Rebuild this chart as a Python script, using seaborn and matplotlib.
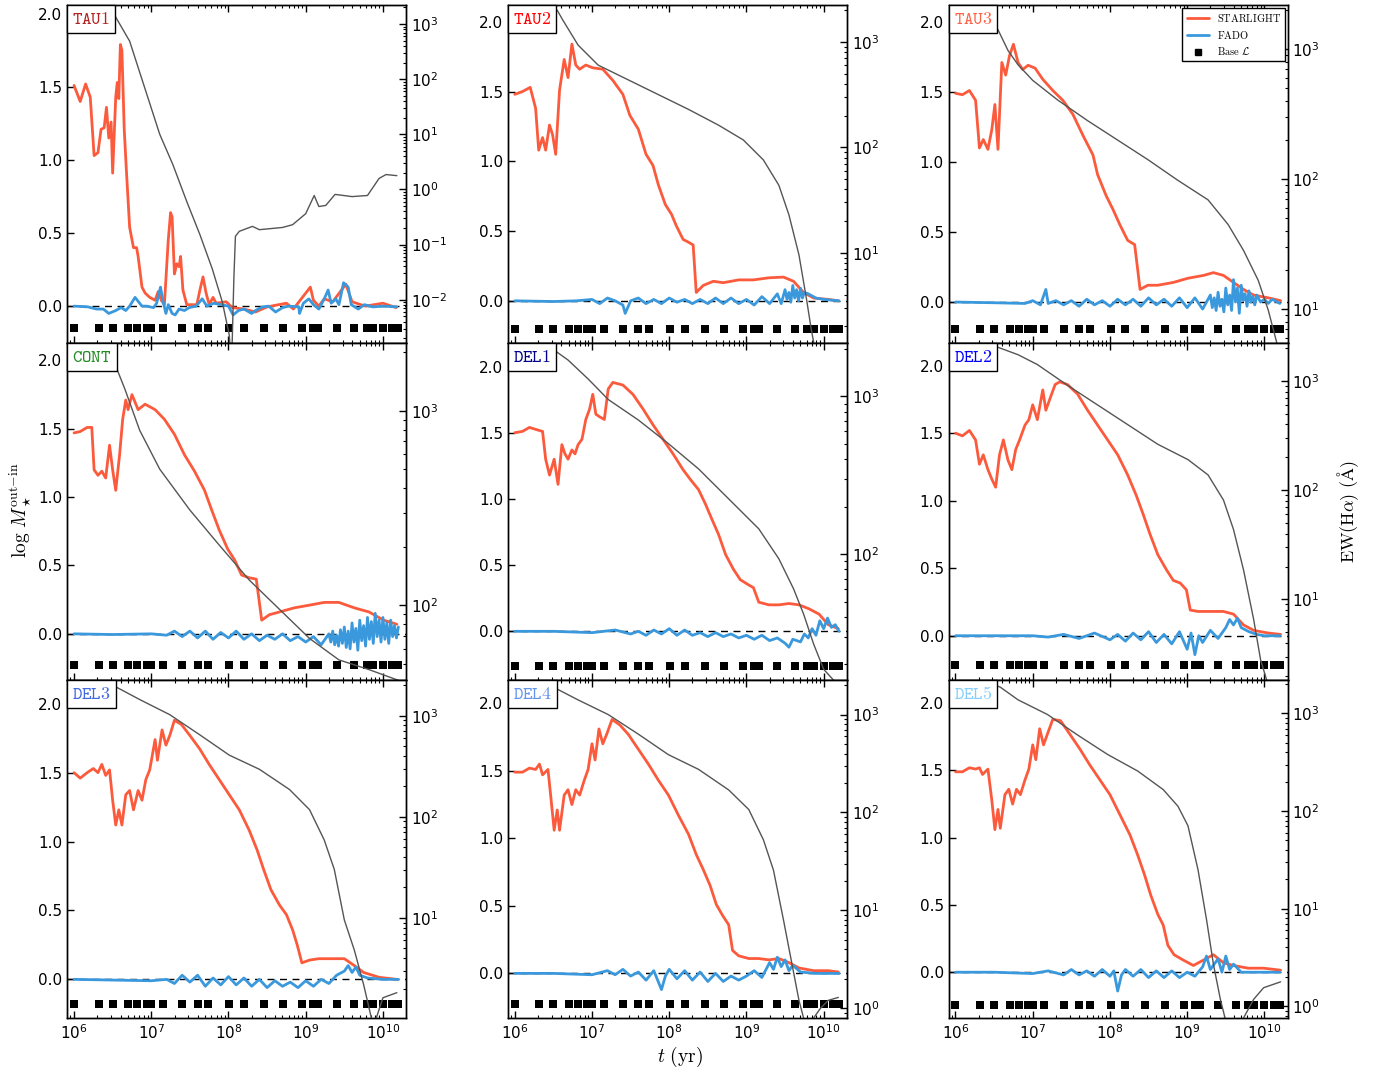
import numpy as np
import matplotlib
matplotlib.use('Agg')
import matplotlib.pyplot as plt
import seaborn as sns
from matplotlib.lines import Line2D
from matplotlib.offsetbox import AnchoredText
from matplotlib.ticker import LogLocator, NullFormatter, MultipleLocator

sns.set_style('ticks')
plt.rcParams['font.family'] = ['DejaVu Sans']
plt.rcParams['mathtext.fontset'] = 'cm'
plt.rcParams['axes.edgecolor'] = 'black'
plt.rcParams['axes.linewidth'] = 1.0
plt.rcParams['xtick.color'] = 'black'
plt.rcParams['ytick.color'] = 'black'
plt.rcParams['text.color'] = 'black'

# panel names and label colours
names = ['TAU1', 'TAU2', 'TAU3', 'CONT', 'DEL1', 'DEL2', 'DEL3', 'DEL4', 'DEL5']
name_colors = ['#b22222', '#ff0000', '#ff6347', '#228b22', '#00008b',
               '#0000ff', '#4169e1', '#6495ed', '#87cefa']

# ages of the base (log yr)
base_logt = [6.0, 6.32, 6.5, 6.7, 6.82, 6.94, 7.0, 7.15, 7.4, 7.6, 7.74, 8.01, 8.2,
             8.46, 8.71, 8.955, 9.1, 9.16, 9.4, 9.63, 9.79, 9.87, 10.0, 10.12, 10.2]
base_y = [-0.15, -0.20, -0.19, -0.23, -0.26, -0.22, -0.18, -0.23, -0.24]

# (log t, log M out-in) -- STARLIGHT
tau1_red = [(6.0, 1.51), (6.08, 1.40), (6.15, 1.52), (6.21, 1.43), (6.26, 1.03), (6.31, 1.05),
            (6.35, 1.21), (6.39, 1.22), (6.42, 1.36), (6.45, 1.15), (6.48, 1.26), (6.50, 0.91),
            (6.54, 1.43), (6.56, 1.53), (6.58, 1.42), (6.60, 1.79), (6.62, 1.75), (6.65, 1.21),
            (6.68, 0.91), (6.72, 0.54), (6.77, 0.40), (6.81, 0.40), (6.83, 0.34), (6.88, 0.13),
            (6.92, 0.09), (6.98, 0.06), (7.05, 0.04), (7.09, 0.10), (7.13, 0.04), (7.17, 0.01),
            (7.22, 0.45), (7.25, 0.64), (7.27, 0.61), (7.30, 0.22), (7.33, 0.29), (7.36, 0.27),
            (7.38, 0.34), (7.41, 0.11), (7.46, 0.01), (7.59, 0.01), (7.63, 0.11), (7.67, 0.20),
            (7.71, 0.09), (7.75, 0.01), (7.80, 0.06), (7.84, 0.02), (7.97, 0.03), (8.05, -0.01),
            (8.2, -0.02), (8.35, -0.04), (8.5, -0.005), (8.75, 0.02), (8.84, -0.02), (9.06, 0.13),
            (9.1, 0.04), (9.17, 0.0), (9.24, 0.05), (9.35, 0.03), (9.52, 0.15), (9.6, 0.03),
            (9.77, 0.0), (10.0, 0.02), (10.17, -0.01)]
tau2_red = [(6.0, 1.48), (6.1, 1.50), (6.2, 1.53), (6.27, 1.38), (6.31, 1.08), (6.36, 1.17),
            (6.40, 1.08), (6.45, 1.26), (6.49, 1.19), (6.53, 1.05), (6.58, 1.51), (6.64, 1.73),
            (6.69, 1.60), (6.74, 1.84), (6.79, 1.69), (6.84, 1.66), (6.92, 1.69), (7.01, 1.67),
            (7.14, 1.66), (7.27, 1.58), (7.40, 1.48), (7.49, 1.33), (7.60, 1.23), (7.70, 1.05),
            (7.79, 0.97), (7.86, 0.83), (7.95, 0.69), (8.03, 0.62), (8.09, 0.54), (8.18, 0.44),
            (8.25, 0.42), (8.31, 0.40), (8.35, 0.06), (8.44, 0.11), (8.57, 0.14), (8.70, 0.13),
            (8.90, 0.15), (9.09, 0.15), (9.29, 0.165), (9.48, 0.17), (9.61, 0.14), (9.74, 0.06),
            (9.87, 0.02), (10.06, 0.01), (10.19, 0.0)]
tau3_red = [(6.0, 1.49), (6.09, 1.48), (6.18, 1.51), (6.26, 1.44), (6.31, 1.10), (6.36, 1.16),
            (6.42, 1.09), (6.47, 1.23), (6.51, 1.41), (6.55, 1.09), (6.60, 1.71), (6.65, 1.62),
            (6.70, 1.76), (6.75, 1.84), (6.81, 1.71), (6.87, 1.66), (6.94, 1.69), (7.03, 1.67),
            (7.13, 1.59), (7.26, 1.51), (7.39, 1.44), (7.52, 1.34), (7.65, 1.19), (7.78, 1.05),
            (7.84, 0.91), (7.95, 0.76), (8.04, 0.66), (8.13, 0.55), (8.23, 0.44), (8.32, 0.41),
            (8.39, 0.09), (8.49, 0.12), (8.62, 0.12), (8.82, 0.14), (9.01, 0.17), (9.21, 0.19),
            (9.34, 0.21), (9.47, 0.19), (9.60, 0.14), (9.73, 0.09), (9.86, 0.05), (10.05, 0.03),
            (10.21, 0.01)]
cont_red = [(6.0, 1.47), (6.08, 1.48), (6.17, 1.51), (6.23, 1.51), (6.26, 1.20), (6.31, 1.16),
            (6.36, 1.19), (6.41, 1.14), (6.46, 1.38), (6.50, 1.20), (6.54, 1.05), (6.59, 1.31),
            (6.63, 1.57), (6.67, 1.71), (6.70, 1.64), (6.75, 1.75), (6.83, 1.64), (6.92, 1.68),
            (7.05, 1.64), (7.17, 1.57), (7.30, 1.46), (7.43, 1.31), (7.56, 1.19), (7.69, 1.05),
            (7.78, 0.91), (7.88, 0.76), (7.99, 0.62), (8.08, 0.54), (8.17, 0.43), (8.27, 0.41),
            (8.36, 0.40), (8.43, 0.10), (8.53, 0.14), (8.66, 0.16), (8.85, 0.19), (9.05, 0.21),
            (9.24, 0.23), (9.43, 0.23), (9.63, 0.19), (9.82, 0.16), (10.01, 0.10), (10.18, 0.07)]
del1_red = [(6.0, 1.50), (6.10, 1.51), (6.19, 1.54), (6.30, 1.52), (6.36, 1.51), (6.40, 1.30),
            (6.45, 1.18), (6.51, 1.30), (6.56, 1.11), (6.61, 1.41), (6.65, 1.34), (6.69, 1.30),
            (6.74, 1.37), (6.78, 1.34), (6.82, 1.41), (6.87, 1.45), (6.92, 1.60), (6.97, 1.68),
            (7.01, 1.79), (7.05, 1.64), (7.10, 1.62), (7.16, 1.60), (7.21, 1.83), (7.27, 1.88),
            (7.40, 1.86), (7.53, 1.79), (7.66, 1.68), (7.79, 1.56), (7.92, 1.45), (8.05, 1.34),
            (8.18, 1.22), (8.27, 1.15), (8.38, 1.07), (8.47, 0.96), (8.55, 0.85), (8.64, 0.73),
            (8.73, 0.58), (8.83, 0.47), (8.92, 0.39), (9.03, 0.35), (9.09, 0.33), (9.16, 0.22),
            (9.29, 0.20), (9.42, 0.20), (9.55, 0.21), (9.68, 0.20), (9.81, 0.17), (9.94, 0.13),
            (10.06, 0.05), (10.19, 0.02)]
del2_red = [(6.0, 1.50), (6.09, 1.48), (6.18, 1.52), (6.26, 1.45), (6.31, 1.27), (6.36, 1.34),
            (6.42, 1.23), (6.47, 1.16), (6.52, 1.10), (6.57, 1.34), (6.62, 1.45), (6.68, 1.30),
            (6.73, 1.23), (6.78, 1.38), (6.83, 1.45), (6.90, 1.56), (6.95, 1.60), (7.0, 1.71),
            (7.06, 1.60), (7.13, 1.82), (7.17, 1.67), (7.22, 1.75), (7.29, 1.86), (7.35, 1.88),
            (7.45, 1.86), (7.58, 1.79), (7.71, 1.67), (7.84, 1.56), (7.97, 1.45), (8.10, 1.34),
            (8.23, 1.19), (8.34, 1.04), (8.43, 0.90), (8.52, 0.75), (8.62, 0.60), (8.73, 0.49),
            (8.82, 0.41), (8.91, 0.39), (8.99, 0.34), (9.04, 0.19), (9.14, 0.18), (9.30, 0.18),
            (9.47, 0.18), (9.60, 0.16), (9.73, 0.08), (9.86, 0.04), (10.05, 0.02), (10.21, 0.01)]
del3_red = [(6.0, 1.50), (6.08, 1.46), (6.17, 1.50), (6.25, 1.53), (6.31, 1.50), (6.36, 1.56),
            (6.41, 1.48), (6.46, 1.52), (6.50, 1.30), (6.54, 1.12), (6.58, 1.23), (6.62, 1.12),
            (6.67, 1.34), (6.72, 1.37), (6.77, 1.23), (6.83, 1.37), (6.88, 1.30), (6.93, 1.45),
            (6.98, 1.52), (7.05, 1.74), (7.08, 1.59), (7.14, 1.81), (7.19, 1.70), (7.24, 1.77),
            (7.30, 1.88), (7.39, 1.85), (7.50, 1.77), (7.63, 1.67), (7.75, 1.56), (7.88, 1.45),
            (8.01, 1.34), (8.14, 1.23), (8.27, 1.08), (8.37, 0.94), (8.46, 0.79), (8.55, 0.65),
            (8.66, 0.54), (8.75, 0.47), (8.83, 0.36), (8.89, 0.25), (8.95, 0.12), (9.05, 0.14),
            (9.17, 0.15), (9.37, 0.15), (9.50, 0.15), (9.63, 0.10), (9.75, 0.05), (9.95, 0.015),
            (10.18, 0.0)]
del4_red = [(6.0, 1.49), (6.10, 1.49), (6.19, 1.52), (6.27, 1.51), (6.32, 1.55), (6.36, 1.47),
            (6.43, 1.51), (6.47, 1.29), (6.51, 1.06), (6.55, 1.21), (6.58, 1.06), (6.64, 1.32),
            (6.69, 1.36), (6.74, 1.25), (6.79, 1.36), (6.84, 1.32), (6.90, 1.43), (6.95, 1.51),
            (7.0, 1.70), (7.04, 1.58), (7.09, 1.81), (7.14, 1.70), (7.19, 1.77), (7.26, 1.88),
            (7.36, 1.84), (7.47, 1.77), (7.60, 1.66), (7.73, 1.55), (7.86, 1.43), (7.99, 1.32),
            (8.12, 1.17), (8.25, 1.03), (8.35, 0.88), (8.44, 0.77), (8.53, 0.65), (8.61, 0.51),
            (8.69, 0.43), (8.77, 0.36), (8.82, 0.17), (8.90, 0.13), (9.03, 0.11), (9.16, 0.11),
            (9.29, 0.10), (9.42, 0.11), (9.55, 0.08), (9.68, 0.04), (9.87, 0.02), (10.06, 0.02),
            (10.19, 0.01)]
del5_red = [(6.0, 1.49), (6.09, 1.49), (6.18, 1.52), (6.26, 1.51), (6.31, 1.52), (6.35, 1.47),
            (6.42, 1.51), (6.47, 1.28), (6.51, 1.06), (6.55, 1.21), (6.58, 1.07), (6.64, 1.32),
            (6.69, 1.36), (6.74, 1.25), (6.79, 1.36), (6.84, 1.32), (6.90, 1.43), (6.95, 1.51),
            (7.0, 1.69), (7.04, 1.58), (7.09, 1.81), (7.14, 1.69), (7.19, 1.77), (7.26, 1.88),
            (7.36, 1.87), (7.48, 1.77), (7.61, 1.66), (7.74, 1.54), (7.87, 1.43), (8.0, 1.32),
            (8.13, 1.17), (8.26, 1.02), (8.36, 0.87), (8.45, 0.72), (8.53, 0.57), (8.62, 0.43),
            (8.69, 0.35), (8.75, 0.20), (8.83, 0.13), (8.95, 0.09), (9.08, 0.05), (9.21, 0.09),
            (9.34, 0.13), (9.47, 0.07), (9.60, 0.05), (9.79, 0.03), (9.99, 0.03), (10.21, 0.015)]

# (log t, log M out-in) -- FADO
tau1_blue = [(6.0, 0.0), (6.18, -0.005), (6.29, -0.02), (6.38, -0.02), (6.45, -0.05), (6.54, -0.03),
             (6.61, -0.01), (6.67, -0.03), (6.72, 0.0), (6.79, 0.06), (6.82, 0.04), (6.88, 0.0),
             (6.94, 0.0), (7.03, -0.01), (7.07, 0.02), (7.12, 0.13), (7.15, 0.04), (7.19, -0.05),
             (7.22, 0.01), (7.27, -0.05), (7.31, -0.06), (7.36, -0.02), (7.43, -0.03), (7.49, -0.01),
             (7.58, 0.0), (7.66, 0.05), (7.72, 0.0), (7.81, 0.02), (7.9, 0.01), (8.0, 0.0),
             (8.06, -0.06), (8.13, -0.03), (8.2, -0.02), (8.3, -0.05), (8.35, -0.03), (8.44, -0.005),
             (8.52, 0.0), (8.61, -0.04), (8.7, -0.01), (8.78, 0.0), (8.91, -0.005), (8.92, -0.05),
             (8.97, 0.02), (9.04, 0.05), (9.1, 0.01), (9.17, -0.02), (9.24, 0.05), (9.29, 0.11),
             (9.33, 0.02), (9.39, 0.05), (9.43, 0.01), (9.49, 0.16), (9.55, 0.13), (9.59, 0.01),
             (9.68, -0.02), (9.76, 0.01), (9.87, -0.005), (10.0, 0.0), (10.18, -0.005)]
tau2_blue = [(6.0, 0.0), (6.5, -0.005), (6.8, 0.0), (7.0, 0.01), (7.1, -0.02), (7.2, 0.02),
             (7.3, 0.0), (7.4, -0.03), (7.43, -0.09), (7.5, 0.0), (7.6, 0.02), (7.7, -0.02),
             (7.8, 0.01), (7.9, -0.02), (8.0, 0.02), (8.1, -0.01), (8.2, 0.01), (8.3, -0.02),
             (8.4, 0.01), (8.5, -0.02), (8.6, 0.02), (8.7, -0.02), (8.8, 0.02), (8.9, -0.02),
             (9.0, 0.01), (9.1, -0.03), (9.2, 0.03), (9.3, -0.02), (9.4, 0.05), (9.45, -0.02),
             (9.5, 0.08), (9.525, 0.01), (9.55, 0.06), (9.575, -0.01), (9.6, 0.11), (9.625, 0.02),
             (9.65, 0.08), (9.675, 0.0), (9.7, 0.09), (9.725, 0.02), (9.75, 0.06), (9.8, 0.05),
             (9.9, 0.02), (10.0, 0.01), (10.2, 0.0)]
tau3_blue = [(6.0, 0.0), (6.5, -0.005), (6.9, -0.01), (7.0, 0.01), (7.1, -0.02), (7.17, 0.09),
             (7.2, -0.01), (7.3, 0.01), (7.4, -0.02), (7.5, 0.01), (7.6, -0.03), (7.7, 0.02),
             (7.8, -0.02), (7.9, 0.01), (8.0, -0.03), (8.1, 0.02), (8.2, -0.02), (8.3, 0.02),
             (8.4, -0.03), (8.5, 0.03), (8.6, -0.02), (8.7, 0.02), (8.8, -0.03), (8.9, 0.03),
             (9.0, -0.04), (9.1, 0.03), (9.2, -0.05), (9.3, 0.05), (9.325, -0.04), (9.35, 0.03),
             (9.375, -0.06), (9.4, 0.07), (9.425, -0.03), (9.45, 0.02), (9.475, -0.07), (9.5, 0.1),
             (9.525, -0.02), (9.55, 0.05), (9.575, -0.06), (9.6, 0.16), (9.625, 0.0), (9.65, 0.1),
             (9.675, -0.08), (9.7, 0.12), (9.725, 0.01), (9.75, 0.06), (9.775, -0.03), (9.8, 0.08),
             (9.825, 0.0), (9.85, 0.04), (9.875, -0.02), (9.9, 0.05), (9.95, 0.0), (10.0, 0.02),
             (10.05, -0.01), (10.1, 0.02), (10.2, -0.01)]
cont_blue = [(6.0, 0.0), (6.5, -0.005), (7.0, 0.0), (7.2, -0.01), (7.3, 0.02), (7.4, -0.02),
             (7.5, 0.02), (7.6, -0.03), (7.7, 0.02), (7.8, -0.04), (7.9, 0.01), (8.0, -0.03),
             (8.1, 0.02), (8.2, -0.04), (8.3, 0.0), (8.4, -0.05), (8.5, -0.01), (8.6, -0.04),
             (8.7, 0.0), (8.8, -0.05), (8.9, -0.02), (9.0, -0.06), (9.1, -0.02), (9.2, -0.08),
             (9.3, 0.0), (9.325, -0.06), (9.35, 0.02), (9.375, -0.08), (9.4, -0.01), (9.425, -0.09),
             (9.45, 0.03), (9.475, -0.07), (9.5, 0.05), (9.525, -0.1), (9.55, 0.02), (9.575, -0.11),
             (9.6, 0.08), (9.625, -0.06), (9.65, 0.04), (9.675, -0.12), (9.7, 0.1), (9.725, -0.05),
             (9.75, 0.06), (9.775, -0.09), (9.8, 0.12), (9.825, -0.04), (9.85, 0.09), (9.875, -0.07),
             (9.9, 0.15), (9.925, -0.02), (9.95, 0.1), (9.975, -0.06), (10.0, 0.12), (10.025, -0.04),
             (10.05, 0.08), (10.075, -0.07), (10.1, 0.1), (10.125, -0.02), (10.15, 0.06),
             (10.175, -0.03), (10.2, 0.05)]
del1_blue = [(6.0, 0.0), (6.5, 0.0), (7.0, -0.01), (7.3, 0.01), (7.5, -0.02), (7.6, 0.0),
             (7.7, -0.03), (7.8, 0.01), (7.9, -0.02), (8.0, 0.02), (8.1, -0.03), (8.2, 0.01),
             (8.3, -0.03), (8.4, -0.01), (8.5, -0.04), (8.6, -0.01), (8.7, -0.04), (8.8, -0.02),
             (8.9, -0.05), (9.0, -0.03), (9.1, -0.06), (9.2, -0.03), (9.3, -0.07), (9.4, -0.05),
             (9.5, -0.09), (9.55, -0.12), (9.6, -0.06), (9.7, -0.08), (9.75, -0.02), (9.8, -0.05),
             (9.85, 0.02), (9.9, -0.03), (9.95, 0.08), (10.0, 0.02), (10.05, 0.1), (10.1, 0.03),
             (10.15, 0.05), (10.2, 0.0)]
del2_blue = [(6.0, 0.0), (7.0, 0.0), (7.2, -0.01), (7.4, 0.01), (7.6, -0.02), (7.8, 0.02),
             (8.0, -0.03), (8.1, 0.01), (8.2, -0.04), (8.3, 0.02), (8.4, -0.03), (8.5, 0.03),
             (8.6, -0.05), (8.7, 0.01), (8.8, -0.06), (8.9, 0.03), (9.0, -0.1), (9.05, 0.02),
             (9.1, -0.14), (9.15, 0.0), (9.2, -0.05), (9.3, 0.04), (9.4, -0.02), (9.5, 0.06),
             (9.55, 0.12), (9.6, 0.08), (9.65, 0.13), (9.7, 0.06), (9.8, 0.03), (9.9, 0.01),
             (10.0, 0.0), (10.2, 0.0)]
del3_blue = [(6.0, 0.0), (6.5, -0.005), (7.0, -0.01), (7.2, 0.0), (7.3, -0.03), (7.4, 0.03),
             (7.5, -0.02), (7.6, 0.03), (7.7, -0.05), (7.8, 0.01), (7.9, -0.04), (8.0, 0.02),
             (8.1, -0.04), (8.2, 0.01), (8.3, -0.05), (8.4, 0.0), (8.5, -0.06), (8.6, -0.01),
             (8.7, -0.05), (8.8, -0.02), (8.9, -0.06), (9.0, -0.01), (9.1, -0.05), (9.2, 0.0),
             (9.3, -0.03), (9.4, 0.03), (9.5, 0.06), (9.55, 0.1), (9.6, 0.05), (9.65, 0.09),
             (9.7, 0.03), (9.8, 0.01), (10.0, 0.0), (10.2, 0.0)]
del4_blue = [(6.0, 0.0), (6.5, 0.0), (7.0, -0.01), (7.2, 0.02), (7.3, -0.01), (7.4, 0.03),
             (7.5, -0.02), (7.6, 0.01), (7.7, -0.05), (7.8, 0.02), (7.9, -0.12), (7.95, -0.02),
             (8.0, 0.03), (8.1, -0.04), (8.2, 0.02), (8.3, -0.05), (8.4, 0.01), (8.5, -0.06),
             (8.6, 0.0), (8.7, -0.06), (8.8, -0.02), (8.9, -0.05), (9.0, -0.02), (9.1, 0.02),
             (9.2, -0.03), (9.3, 0.08), (9.35, 0.03), (9.4, 0.12), (9.45, 0.05), (9.5, 0.1),
             (9.55, 0.02), (9.6, 0.06), (9.7, 0.01), (9.9, 0.0), (10.2, 0.0)]
del5_blue = [(6.0, 0.0), (6.5, 0.0), (7.0, -0.01), (7.2, 0.01), (7.4, -0.02), (7.5, 0.02),
             (7.6, -0.02), (7.7, 0.01), (7.8, -0.03), (7.9, 0.02), (8.0, -0.03), (8.05, 0.01),
             (8.1, -0.14), (8.15, -0.02), (8.2, 0.02), (8.3, -0.03), (8.4, 0.02), (8.5, -0.04),
             (8.6, 0.01), (8.7, -0.04), (8.8, 0.01), (8.9, -0.04), (9.0, 0.0), (9.1, -0.03),
             (9.2, 0.04), (9.25, 0.12), (9.3, 0.02), (9.4, 0.1), (9.45, 0.0), (9.5, 0.12),
             (9.55, 0.02), (9.6, 0.06), (9.7, 0.0), (9.9, 0.0), (10.2, 0.0)]

# (log t, log EW(Halpha))
tau1_ew = [(6.0, 3.45), (6.3, 3.3), (6.53, 3.15), (6.72, 2.69), (7.11, 1.0), (7.28, 0.45),
           (7.46, -0.22), (7.63, -0.82), (7.79, -1.44), (7.92, -2.04), (8.01, -2.64), (8.04, -3.2),
           (8.07, -1.6), (8.09, -0.85), (8.14, -0.76), (8.31, -0.67), (8.40, -0.73), (8.70, -0.69),
           (8.83, -0.64), (9.0, -0.44), (9.11, -0.11), (9.17, -0.31), (9.26, -0.29), (9.38, -0.09),
           (9.60, -0.13), (9.80, -0.11), (9.95, 0.20), (10.04, 0.27), (10.18, 0.25)]
tau2_ew = [(6.0, 3.45), (6.3, 3.4), (6.55, 3.3), (6.62, 3.21), (6.82, 2.97), (7.08, 2.78),
           (7.47, 2.64), (7.86, 2.50), (8.25, 2.36), (8.64, 2.21), (8.96, 2.07), (9.22, 1.88),
           (9.42, 1.64), (9.55, 1.36), (9.68, 0.98), (9.78, 0.55), (9.84, 0.27), (9.91, 0.0),
           (10.0, -0.5), (10.2, -1.0)]
tau3_ew = [(6.0, 3.45), (6.3, 3.35), (6.55, 3.15), (6.68, 2.99), (6.81, 2.88), (7.0, 2.76),
           (7.32, 2.61), (7.71, 2.45), (8.1, 2.3), (8.49, 2.15), (8.88, 1.99), (9.27, 1.84),
           (9.53, 1.65), (9.73, 1.45), (9.92, 1.22), (10.05, 0.99), (10.16, 0.74), (10.25, 0.5)]
cont_ew = [(6.0, 3.45), (6.3, 3.35), (6.53, 3.24), (6.66, 3.11), (6.85, 2.90), (7.11, 2.70),
           (7.50, 2.49), (7.88, 2.31), (8.27, 2.13), (8.66, 1.98), (9.05, 1.83), (9.43, 1.72),
           (9.82, 1.67), (10.2, 1.615), (10.3, 1.59)]
del1_ew = [(6.0, 3.45), (6.3, 3.38), (6.49, 3.30), (6.69, 3.23), (6.95, 3.11), (7.21, 2.98),
           (7.60, 2.85), (7.99, 2.70), (8.38, 2.54), (8.77, 2.35), (9.16, 2.16), (9.42, 1.97),
           (9.61, 1.78), (9.74, 1.62), (9.87, 1.43), (10.0, 1.27), (10.13, 1.2), (10.25, 0.9)]
del2_ew = [(6.0, 3.42), (6.3, 3.37), (6.58, 3.30), (6.81, 3.24), (7.06, 3.15), (7.45, 2.96),
           (7.84, 2.78), (8.23, 2.60), (8.62, 2.42), (9.01, 2.28), (9.27, 2.14), (9.47, 1.91),
           (9.60, 1.64), (9.73, 1.27), (9.86, 0.82), (9.95, 0.45), (10.03, 0.26), (10.15, -0.2)]
del3_ew = [(6.0, 3.42), (6.3, 3.36), (6.53, 3.29), (6.85, 3.16), (7.24, 3.01), (7.63, 2.81),
           (8.01, 2.61), (8.40, 2.47), (8.79, 2.27), (9.05, 2.07), (9.24, 1.77), (9.37, 1.48),
           (9.50, 0.98), (9.63, 0.68), (9.75, 0.34), (9.85, 0.01), (9.88, -0.4), (9.91, 0.0),
           (10.0, 0.21), (10.18, 0.26)]
del4_ew = [(6.0, 3.42), (6.3, 3.35), (6.55, 3.26), (6.82, 3.15), (7.21, 3.0), (7.60, 2.80),
           (7.99, 2.59), (8.38, 2.44), (8.77, 2.23), (9.03, 2.03), (9.22, 1.72), (9.35, 1.41),
           (9.48, 0.90), (9.58, 0.49), (9.68, 0.08), (9.74, -0.10), (9.80, -0.5), (9.87, -0.10),
           (9.96, 0.0), (10.06, 0.08), (10.19, 0.11)]
del5_ew = [(6.0, 3.42), (6.3, 3.35), (6.58, 3.27), (6.81, 3.14), (7.19, 2.99), (7.58, 2.78),
           (7.97, 2.58), (8.36, 2.41), (8.69, 2.22), (8.88, 2.05), (9.01, 1.85), (9.14, 1.40),
           (9.25, 0.89), (9.34, 0.43), (9.43, 0.07), (9.49, -0.12), (9.6, -0.6), (9.73, -0.12),
           (9.86, 0.07), (9.99, 0.19), (10.21, 0.25)]

# axis ranges
ylims = [(-0.25, 2.06), (-0.30, 2.12), (-0.29, 2.12), (-0.34, 2.13), (-0.37, 2.18),
         (-0.33, 2.17), (-0.28, 2.17), (-0.33, 2.17), (-0.34, 2.17)]
ew_lims = [(-2.78, 3.345), (0.147, 3.35), (0.74, 3.34), (1.615, 3.35), (1.20, 3.34),
           (0.26, 3.35), (0.01, 3.35), (-0.10, 3.35), (-0.12, 3.34)]

reds = [tau1_red, tau2_red, tau3_red, cont_red, del1_red, del2_red, del3_red, del4_red, del5_red]
blues = [tau1_blue, tau2_blue, tau3_blue, cont_blue, del1_blue, del2_blue, del3_blue, del4_blue, del5_blue]
ews = [tau1_ew, tau2_ew, tau3_ew, cont_ew, del1_ew, del2_ew, del3_ew, del4_ew, del5_ew]

c_star = '#fc5a3c'
c_fado = '#3a98dc'

fig = plt.figure(figsize=(13.83, 10.73), dpi=100)
gs = fig.add_gridspec(3, 3, left=0.0485, right=0.931, top=0.9953, bottom=0.0513,
                      wspace=0.30, hspace=0.0)

for i in range(9):
    ax = fig.add_subplot(gs[i // 3, i % 3])
    ax.set_xscale('log')
    ax.set_xlim(10 ** 5.91, 10 ** 10.30)
    ax.set_ylim(*ylims[i])

    ax.axhline(0, color='k', ls='--', lw=1, dashes=(5, 4), zorder=1)
    rt, rv = zip(*reds[i])
    sns.lineplot(x=10 ** np.array(rt), y=np.array(rv), ax=ax, color=c_star, lw=2,
                 estimator=None, sort=False, zorder=2)
    bt, bv = zip(*blues[i])
    sns.lineplot(x=10 ** np.array(bt), y=np.array(bv), ax=ax, color=c_fado, lw=2,
                 estimator=None, sort=False, zorder=3)
    bx = 10 ** np.array(base_logt)
    sns.scatterplot(x=bx, y=np.full(len(bx), base_y[i]), ax=ax, marker='s', color='k',
                    s=36, linewidth=0, zorder=4)
    ax.set_xlabel('')
    ax.set_ylabel('')

    ax.yaxis.set_major_locator(MultipleLocator(0.5))
    ax.yaxis.set_major_formatter(matplotlib.ticker.FormatStrFormatter('%.1f'))
    ax.tick_params(which='both', direction='in', top=True, right=False, labelsize=11)
    ax.tick_params(which='major', length=5, width=1)
    ax.tick_params(which='minor', length=2.5, width=0.8)
    ax.xaxis.set_major_locator(LogLocator(base=10, numticks=15))
    ax.xaxis.set_minor_locator(LogLocator(base=10, subs=np.arange(2, 10), numticks=15))
    ax.xaxis.set_minor_formatter(NullFormatter())
    if i < 6:
        ax.tick_params(labelbottom=False)

    ax2 = ax.twinx()
    ax2.set_yscale('log')
    gt, gv = zip(*ews[i])
    sns.lineplot(x=10 ** np.array(gt), y=10 ** np.array(gv), ax=ax2, color='#555555', lw=1,
                 estimator=None, sort=False)
    ax2.set_ylim(10 ** ew_lims[i][0], 10 ** ew_lims[i][1])
    ax2.set_xlim(10 ** 5.91, 10 ** 10.30)
    ax2.set_ylabel('')
    ax2.set_xlabel('')
    ax2.yaxis.set_major_locator(LogLocator(base=10, numticks=15))
    ax2.yaxis.set_minor_locator(LogLocator(base=10, subs=np.arange(2, 10), numticks=15))
    ax2.yaxis.set_minor_formatter(NullFormatter())
    ax2.tick_params(which='both', direction='in', labelsize=11)
    ax2.tick_params(which='major', length=5, width=1)
    ax2.tick_params(which='minor', length=2.5, width=0.8)

    at = AnchoredText(r'$\mathtt{%s}$' % names[i], loc='upper left', frameon=True,
                      pad=0.28, borderpad=0.0,
                      prop=dict(color=name_colors[i], size=13))
    at.patch.set_boxstyle('square,pad=0')
    at.patch.set_edgecolor('black')
    at.patch.set_linewidth(1.0)
    at.zorder = 10
    ax2.add_artist(at)

    if i == 2:
        handles = [Line2D([], [], color=c_star, lw=2),
                   Line2D([], [], color=c_fado, lw=2),
                   Line2D([], [], color='k', marker='s', ls='none', ms=5)]
        labels = [r'$\mathrm{STARLIGHT}$', r'$\mathrm{FADO}$', r'$\mathrm{Base}\ \mathcal{L}$']
        leg = ax2.legend(handles, labels, loc='upper right', fontsize=7.5, frameon=True,
                         fancybox=False, framealpha=1, edgecolor='black',
                         borderaxespad=0.25, handlelength=2.2, labelspacing=0.45,
                         handletextpad=0.7)
        leg.get_frame().set_linewidth(1.0)
        leg.set_zorder(10)

fig.text(0.0145, 0.525, r'$\log\, M_\star^{\rm out\!-\!in}$', rotation=90,
         ha='center', va='center', fontsize=14)
fig.text(0.975, 0.523, r'$\mathrm{EW(H\alpha)\ (\AA)}$', rotation=90,
         ha='center', va='center', fontsize=13)
fig.text(0.4917, 0.015, r'$t\ \mathrm{(yr)}$', ha='center', va='center', fontsize=14)

fig.savefig('out.png', dpi=100)
